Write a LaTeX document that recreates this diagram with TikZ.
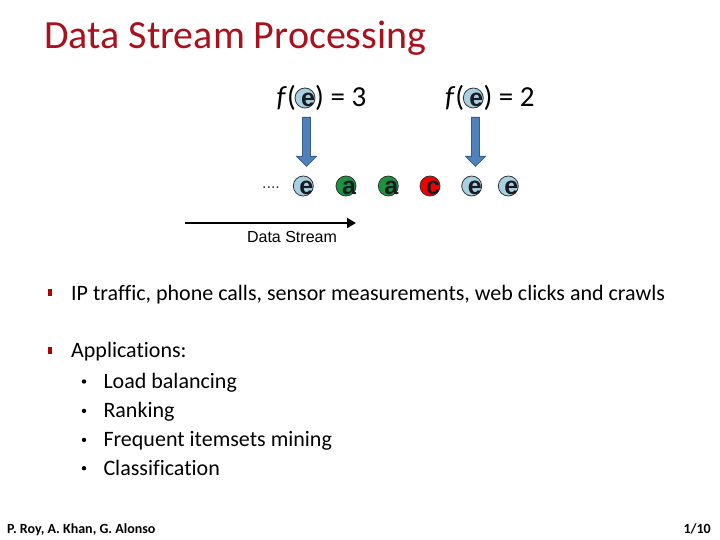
\documentclass[tikz,border=0pt]{standalone}
\usepackage{fontspec}
\setmainfont{Carlito}[Ligatures=NoCommon]
\newfontfamily\arialf{Liberation Sans}
\usetikzlibrary{arrows.meta,calc}
\definecolor{titlered}{HTML}{A8121E}
\definecolor{ballblue}{HTML}{A8D0E0}
\definecolor{ballgreen}{HTML}{1A9441}
\definecolor{ballred}{HTML}{F20000}
\definecolor{arrowblue}{HTML}{4F81BD}
\definecolor{arrowedge}{HTML}{385D8A}
\definecolor{bulletred}{HTML}{B00000}
\definecolor{letterdark}{HTML}{1A1A24}
\tikzset{
  ball/.style={circle, draw=black!80, line width=0.8pt, minimum size=20pt, inner sep=0pt},
  letter/.style={inner sep=0pt, text=letterdark, font=\arialf\bfseries\fontsize{25}{25}\selectfont},
  expr/.style={inner sep=0pt, font=\fontsize{29}{32}\selectfont},
  blockarr/.style={fill=arrowblue, draw=arrowedge, line width=0.8pt, line join=miter},
  item/.style={anchor=base west, inner sep=0pt, font=\fontsize{22}{26}\selectfont},
  sqbullet/.style={fill=bulletred, minimum width=4.5pt, minimum height=7pt, inner sep=0pt},
  dotbullet/.style={circle, fill=black, minimum size=4.4pt, inner sep=0pt},
  footer/.style={inner sep=0pt, font=\bfseries\fontsize{14}{16}\selectfont},
}
\begin{document}
\begin{tikzpicture}[x=1pt,y=-1pt]
\useasboundingbox[fill=white] (0,0) rectangle (720,540);

% title
\node[anchor=base west, inner sep=0pt, text=titlered, font=\fontsize{40}{48}\selectfont] (title) at (44,49) {Data Stream Processing};

% f(e) = 3
\node[ball, fill=ballblue] (t1) at (305,98) {};
\node[letter] (t1l) at ($(t1)+(3,1.5)$) {e};
\node[expr, anchor=base east] (f1) at (296,107) {\textit{f}(};
\node[expr, anchor=base west] (r1) at (315,107) {) = 3};

% f(e) = 2
\node[ball, fill=ballblue] (t2) at (473.3,98) {};
\node[letter] (t2l) at ($(t2)+(3,1.5)$) {e};
\node[expr, anchor=base east] (f2) at (464.3,107) {\textit{f}(};
\node[expr, anchor=base west] (r2) at (483.3,107) {) = 2};

% stream
\node[anchor=base, inner sep=0pt, text=black!80, font=\arialf\fontsize{16}{16}\selectfont] (dots) at (271,188.5) {....};
\node[ball, fill=ballblue]  (s1) at (303.3,186) {};
\node[ball, fill=ballgreen] (s2) at (346,186) {};
\node[ball, fill=ballgreen] (s3) at (388.3,186) {};
\node[ball, fill=ballred]   (s4) at (430,186) {};
\node[ball, fill=ballblue]  (s5) at (471.7,186) {};
\node[ball, fill=ballblue]  (s6) at (508.3,186) {};
\node[letter] at ($(s1)+(3,1.5)$) {e};
\node[letter] at ($(s2)+(3,1.5)$) {a};
\node[letter] at ($(s3)+(3,1.5)$) {a};
\node[letter] at ($(s4)+(3,1.5)$) {c};
\node[letter] at ($(s5)+(3,1.5)$) {e};
\node[letter] at ($(s6)+(3,1.5)$) {e};

% block arrows
\draw[blockarr, shift={($(t1.south)+(1.5,0)$)}] (-4,9) -- (4,9) -- (4,48) -- (10,48) -- (0,58) -- (-10,48) -- (-4,48) -- cycle;
\draw[blockarr, shift={($(t2.south)+(2.2,0)$)}] (-4,9) -- (4,9) -- (4,48) -- (10,48) -- (0,58) -- (-10,48) -- (-4,48) -- cycle;

% data stream arrow
\coordinate (ds0) at (185,223);
\coordinate (ds1) at (356,223);
\draw[line width=2.8pt, -{Triangle[length=9pt,width=10pt]}] (ds0) -- (ds1);
\node[anchor=base, inner sep=0pt, font=\arialf\fontsize{16}{18}\selectfont] (dsl) at (292,242.3) {Data Stream};

% bullets
\node[sqbullet] (b1) at (50,292.5) {};
\node[item] (i1) at (71,300.7) {IP traffic, phone calls, sensor measurements, web clicks and crawls};
\node[sqbullet] (b2) at (50,350) {};
\node[item] (i2) at (71,357.3) {Applications:};
\node[dotbullet] (d1) at (84,381.5) {};
\node[item] (j1) at (103.3,388.3) {Load balancing};
\node[dotbullet] (d2) at (84,410.9) {};
\node[item] (j2) at (103.3,417.7) {Ranking};
\node[dotbullet] (d3) at (84,439.9) {};
\node[item] (j3) at (103.3,446.7) {Frequent itemsets mining};
\node[dotbullet] (d4) at (84,468.2) {};
\node[item] (j4) at (103.3,475) {Classification};

% footer
\node[footer, anchor=base west] (fl) at (7,533) {P. Roy, A. Khan, G. Alonso};
\node[footer, anchor=base east] (fr) at (711,533) {1/10};
\end{tikzpicture}
\end{document}
